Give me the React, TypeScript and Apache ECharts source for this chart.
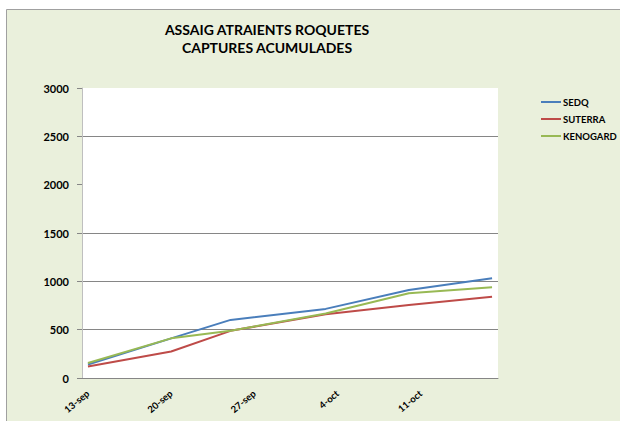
import React, { useEffect, useRef } from "react";
import * as echarts from "echarts";

// Sample dates and cumulative captures
const sampleDates = ["13-sep", "20-sep", "25-sep", "3-oct", "10-oct", "17-oct"];
const sedq = [140, 410, 601, 715, 910, 1031];
const suterra = [120, 274, 488, 660, 755, 840];
const kenogard = [155, 410, 488, 668, 876, 940];

const seriesNames = ["SEDQ", "SUTERRA", "KENOGARD"];
const seriesColors = ["#4A7EBB", "#BE4B48", "#98B954"];

const monthNames = ["gen", "feb", "mar", "abr", "mai", "jun", "jul", "ago", "sep", "oct", "nov", "des"];
const axisStart = [2010, 8, 13];
const axisDays = 35;

const yTicks = [0, 500, 1000, 1500, 2000, 2500, 3000];

const titleLines = ["ASSAIG ATRAIENTS ROQUETES", "CAPTURES ACUMULADES"];

export default function App() {
  const ref = useRef<HTMLDivElement>(null);
  useEffect(() => {
    if (!ref.current) return;
    const chart = echarts.init(ref.current, undefined, { renderer: "svg" });
    const categories = Array.from({ length: axisDays }, (_, i) => {
      const d = new Date(axisStart[0], axisStart[1], axisStart[2] + i);
      return `${d.getDate()}-${monthNames[d.getMonth()]}`;
    });
    const toData = (vals: number[]) =>
      categories.map((c) => {
        const idx = sampleDates.indexOf(c);
        return idx >= 0 ? vals[idx] : null;
      });
    const allVals = [sedq, suterra, kenogard];
    const font = "Lato, 'Open Sans', sans-serif";
    chart.setOption({
      animation: false,
      backgroundColor: "#ffffff",
      textStyle: { fontFamily: font },
      graphic: [
        {
          type: "rect",
          z: -100,
          silent: true,
          shape: { x: 6.5, y: 9.5, width: 700, height: 500 },
          style: { fill: "#EAF0DC", stroke: "#A0A0A0", lineWidth: 1 },
        },
        {
          type: "text",
          x: 267,
          y: 20,
          style: {
            text: titleLines.join("\n"),
            font: `bold 14px ${font}`,
            lineHeight: 18,
            fill: "#000",
            textAlign: "center",
            textVerticalAlign: "top",
          },
        },
      ],
      legend: {
        orient: "vertical",
        left: 541,
        top: 97,
        padding: 0,
        itemWidth: 20,
        itemHeight: 2,
        itemGap: 7,
        icon: "rect",
        data: seriesNames,
        textStyle: { fontSize: 9.5, fontWeight: "bold", color: "#000", fontFamily: font, padding: [0, 0, 0, -3] },
      },
      grid: {
        left: 82,
        right: 122,
        top: 88,
        bottom: 43,
        show: true,
        backgroundColor: "#ffffff",
        borderWidth: 0,
      },
      xAxis: {
        type: "category",
        data: categories,
        boundaryGap: true,
        axisLine: { lineStyle: { color: "#868686", width: 1 } },
        axisTick: { interval: 6, length: 4, lineStyle: { color: "#868686" } },
        axisLabel: {
          interval: 6,
          rotate: 40,
          margin: 14,
          fontSize: 9.5,
          fontWeight: "bold",
          color: "#000",
          fontFamily: font,
        },
        splitLine: { show: false },
      },
      yAxis: {
        type: "value",
        min: yTicks[0],
        max: yTicks[yTicks.length - 1],
        interval: 500,
        axisLine: { show: true, lineStyle: { color: "#BFBFBF", width: 1 } },
        axisTick: { show: true, length: 5, lineStyle: { color: "#868686" } },
        axisLabel: {
          margin: 13,
          fontSize: 11,
          fontWeight: "bold",
          color: "#000",
          fontFamily: font,
          formatter: (v: number) => String(v),
        },
        splitLine: {
          show: true,
          lineStyle: {
            color: ["#868686", "#868686", "#868686", "#868686", "rgba(0,0,0,0)", "#868686", "rgba(0,0,0,0)"],
            width: 1,
          },
        },
      },
      series: seriesNames.map((name, i) => ({
        name,
        type: "line",
        data: toData(allVals[i]),
        connectNulls: true,
        symbol: "none",
        color: seriesColors[i],
        lineStyle: { width: 2, color: seriesColors[i] },
      })),
    });
    return () => chart.dispose();
  }, []);
  return (
    <div
      ref={ref}
      style={{ position: "fixed", left: 0, top: 0, width: 620, height: 421 }}
    />
  );
}
